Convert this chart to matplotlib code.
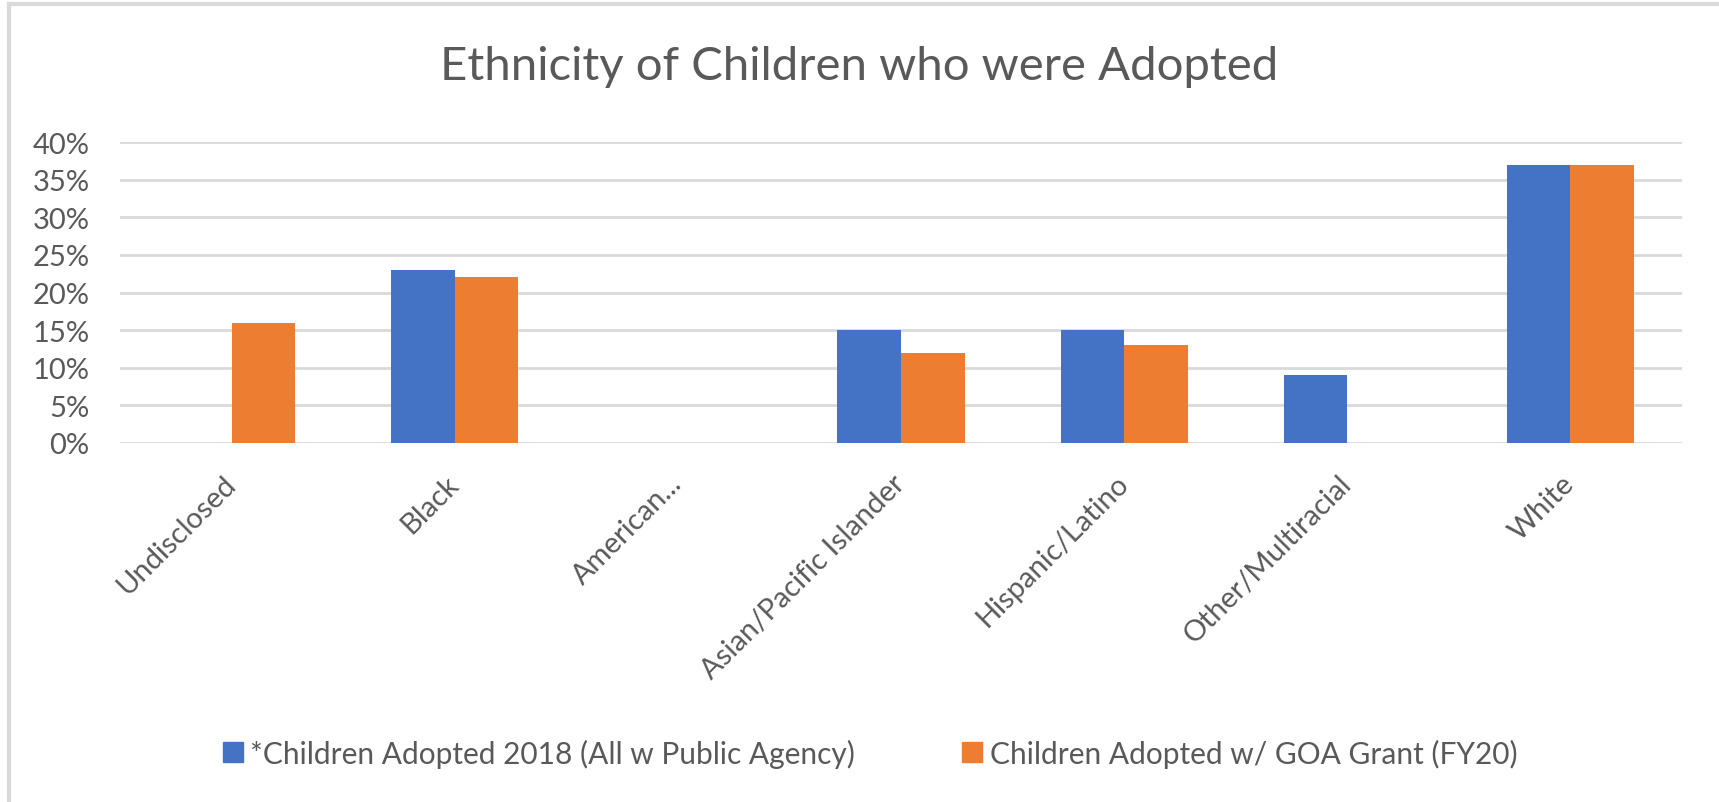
import matplotlib.pyplot as plt
from matplotlib.lines import Line2D
from matplotlib.ticker import PercentFormatter
import numpy as np

categories = ["Undisclosed", "Black", "American...", "Asian/Pacific Islander",
              "Hispanic/Latino", "Other/Multiracial", "White"]
adopted_2018 = [0.0, 0.23, 0.0, 0.15, 0.15, 0.09, 0.37]
adopted_goa = [0.16, 0.22, 0.0, 0.12, 0.13, 0.0, 0.37]
series_names = ["*Children Adopted 2018 (All w Public Agency)",
                "Children Adopted w/ GOA Grant (FY20)"]
y_ticks = [0, 0.05, 0.10, 0.15, 0.20, 0.25, 0.30, 0.35, 0.40]

BLUE = "#4472C4"
ORANGE = "#ED7D31"
TEXT = "#595959"
GRID = "#D9D9D9"

plt.rcParams['font.family'] = ['Lato', 'DejaVu Sans']

fig = plt.figure(figsize=(17.19, 8.03), dpi=100)
ax = fig.add_axes([120 / 1719, 1 - 444 / 803, 1562 / 1719, 301 / 803])

x = np.arange(len(categories))
w = 0.285
ax.bar(x - w / 2, adopted_2018, w, color=BLUE, zorder=3)
ax.bar(x + w / 2, adopted_goa, w, color=ORANGE, zorder=3)

ax.set_xlim(-0.5, len(categories) - 0.5)
ax.set_ylim(0, 0.40)
ax.set_yticks(y_ticks)
ax.yaxis.set_major_formatter(PercentFormatter(1.0, decimals=0))
ax.grid(axis='y', color=GRID, linewidth=2, zorder=0)
for s in ax.spines.values():
    s.set_visible(False)
ax.tick_params(length=0, colors=TEXT, labelsize=21)
ax.tick_params(axis='y', pad=22)
ax.tick_params(axis='x', pad=26)
ax.set_xticks(x)
ax.set_xticklabels(categories, rotation=45, ha='right', va='center',
                   rotation_mode='anchor')

fig.text(0.5, 1 - 67 / 803, "Ethnicity of Children who were Adopted",
         ha='center', va='center', fontsize=34, color=TEXT)

handles = [Line2D([], [], marker='s', linestyle='none', markersize=14,
                  markerfacecolor=c, markeredgecolor=c) for c in (BLUE, ORANGE)]
fig.legend(handles, series_names, loc='center', bbox_to_anchor=(869 / 1719, 1 - 754 / 803),
           ncol=2, frameon=False, fontsize=21.5, labelcolor=TEXT,
           handletextpad=0.2, columnspacing=3.5, handlelength=0.8)

# chart border (top and left visible)
fig.add_artist(Line2D([9 / 1719, 9 / 1719], [0, 1 - 5 / 803], color=GRID, linewidth=3,
                      transform=fig.transFigure))
fig.add_artist(Line2D([9 / 1719, 1], [1 - 5 / 803, 1 - 5 / 803], color=GRID, linewidth=3,
                      transform=fig.transFigure))

fig.savefig("out.png", dpi=100, facecolor='white')
